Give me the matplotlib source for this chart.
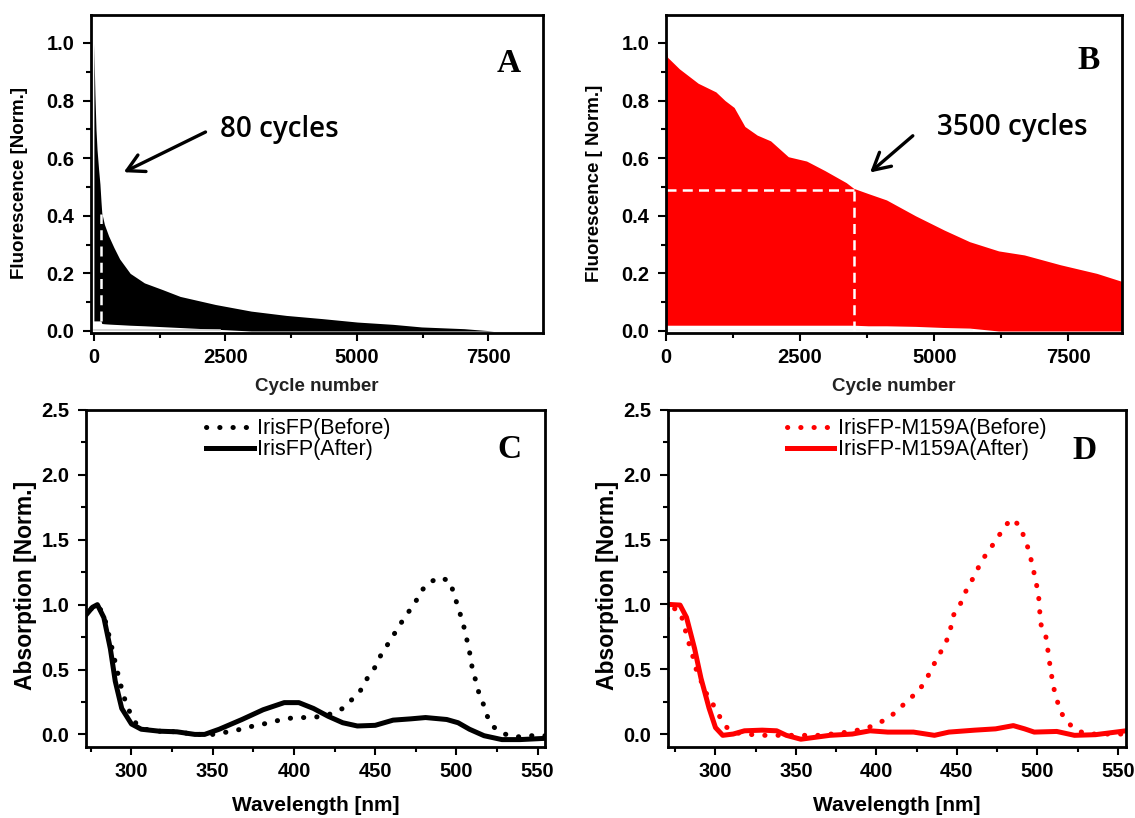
import numpy as np
import matplotlib
matplotlib.use("Agg")
import matplotlib.pyplot as plt
from matplotlib.ticker import MultipleLocator, FormatStrFormatter

plt.rcParams['font.family'] = ['Liberation Sans', 'DejaVu Sans']

# ---- Panel A data (IrisFP switching fatigue) ----
a_cycle = [0, 10, 20, 40, 60, 90, 115, 135, 150, 200, 280, 380, 490, 690, 960, 1300, 1640, 2310,
           2990, 3660, 4340, 5010, 5690, 6230, 7040, 7380, 7600]
a_upper = [1.0, 0.9, 0.82, 0.70, 0.63, 0.56, 0.51, 0.45, 0.41, 0.37, 0.33, 0.29, 0.25, 0.20, 0.167,
           0.144, 0.12, 0.092, 0.069, 0.054, 0.043, 0.031, 0.023, 0.014, 0.008, 0.003, 0.0]
a_lower = [0.035, 0.035, 0.035, 0.035, 0.035, 0.035, 0.035, 0.035, 0.026, 0.025, 0.024, 0.023, 0.022,
           0.02, 0.018, 0.015, 0.012, 0.006, 0.0, 0.0, 0.0, 0.0, 0.0, 0.0, 0.0, 0.0, 0.0]
a_mark_cycle = 135
a_mark_level = 0.405

# ---- Panel B data (IrisFP-M159A switching fatigue) ----
b_cycle = [0, 30, 250, 600, 930, 1100, 1270, 1470, 1700, 1950, 2280, 2620, 2960, 3360, 3500, 3770,
           4110, 4650, 5190, 5660, 6200, 6680, 7350, 8030, 8500]
b_upper = [1.0, 0.95, 0.91, 0.86, 0.83, 0.80, 0.776, 0.71, 0.68, 0.66, 0.605, 0.59, 0.557, 0.515,
           0.495, 0.477, 0.455, 0.40, 0.35, 0.31, 0.278, 0.264, 0.23, 0.20, 0.172]
b_lower = [0.02, 0.02, 0.02, 0.02, 0.02, 0.02, 0.02, 0.02, 0.02, 0.02, 0.02, 0.02, 0.02, 0.02, 0.02,
           0.018, 0.018, 0.016, 0.012, 0.01, 0.0, 0.0, 0.0, 0.0, 0.0]
b_mark_cycle = 3500
b_mark_level = 0.49

# ---- Panel C data (IrisFP absorption) ----
c_wl_after = [270, 276, 279, 283, 287, 290, 294, 300, 306, 317, 328, 339, 345, 354, 368, 381, 394,
              403, 412, 421, 430, 439, 450, 461, 472, 481, 494, 501, 508, 517, 528, 539, 555]
c_after = [0.89, 0.98, 1.0, 0.9, 0.66, 0.41, 0.2, 0.08, 0.04, 0.025, 0.02, 0.0, 0.0, 0.04, 0.115,
           0.19, 0.245, 0.245, 0.2, 0.14, 0.09, 0.065, 0.07, 0.11, 0.12, 0.13, 0.115, 0.09, 0.04,
           -0.01, -0.04, -0.04, -0.03]
c_wl_before = [270, 276, 279, 283, 287, 291, 295, 299, 303, 308, 317, 328, 339, 350, 362, 369, 375,
               385, 394, 402, 410, 418, 423, 430, 435, 441, 445, 450, 453, 457, 461, 465, 469, 474,
               478, 483, 490, 496, 499, 503, 505, 508, 510, 512, 514, 517, 519, 522, 529, 537, 543, 555]
c_before = [0.89, 0.98, 1.0, 0.92, 0.72, 0.5, 0.3, 0.17, 0.08, 0.04, 0.025, 0.02, 0.0, 0.0, 0.025,
            0.045, 0.065, 0.09, 0.12, 0.13, 0.13, 0.14, 0.16, 0.2, 0.26, 0.34, 0.43, 0.52, 0.6, 0.68,
            0.76, 0.84, 0.92, 1.0, 1.10, 1.17, 1.21, 1.18, 1.06, 0.9, 0.81, 0.64, 0.49, 0.41, 0.31,
            0.22, 0.14, 0.065, 0.005, -0.02, -0.01, -0.01]

# ---- Panel D data (IrisFP-M159A absorption) ----
d_wl_after = [270, 271, 278, 282, 287, 291, 296, 300, 304.5, 311, 318, 329, 338, 344, 353, 362, 371,
              385, 396, 407, 423, 436, 445, 461, 474, 485, 492, 498, 512, 523, 536, 555]
d_after = [0.98, 1.0, 0.995, 0.9, 0.66, 0.43, 0.2, 0.05, -0.01, 0.0, 0.025, 0.03, 0.025, -0.01,
           -0.04, -0.025, -0.01, 0.0, 0.025, 0.015, 0.015, -0.01, 0.015, 0.03, 0.04, 0.065, 0.04,
           0.015, 0.02, -0.01, -0.005, 0.025]
d_wl_before = [270, 274, 278, 280, 283, 285.5, 288, 291, 294, 298, 301, 306, 312, 327, 365, 372, 379,
               386, 393, 400, 407, 413, 419, 426, 431, 434, 438, 442, 445, 448, 452, 455, 458.6, 462,
               465, 470, 474, 478.6, 483.5, 489, 494, 497, 499, 500.5, 502, 505, 506, 508, 510, 512,
               514, 518, 523, 530, 545, 555]
d_before = [0.89, 0.97, 0.95, 0.86, 0.72, 0.62, 0.5, 0.41, 0.32, 0.24, 0.17, 0.06, 0.01, -0.01,
            -0.01, 0.0, 0.01, 0.025, 0.04, 0.077, 0.12, 0.18, 0.255, 0.33, 0.42, 0.5, 0.59, 0.68,
            0.76, 0.92, 1.0, 1.09, 1.17, 1.25, 1.33, 1.42, 1.49, 1.58, 1.66, 1.61, 1.44, 1.3, 1.17,
            1.1, 0.85, 0.77, 0.69, 0.51, 0.36, 0.27, 0.18, 0.1, 0.04, 0.0, 0.0, 0.0]

RED = '#ff0000'
DOTS = (0, (0.05, 2.6))

fig = plt.figure(figsize=(11.35, 8.18), dpi=100)
W, H = 1135.0, 818.0

def make_ax(l, r, t, b):
    return fig.add_axes([l / W, 1 - b / H, (r - l) / W, (b - t) / H])

axA = make_ax(91, 543, 15, 333)
axB = make_ax(666, 1122, 15, 333)
axC = make_ax(86, 545, 410, 747)
axD = make_ax(668, 1126, 410, 747)

def style(ax):
    for s in ax.spines.values():
        s.set_linewidth(2.0)
    ax.tick_params(which='both', direction='out', top=False, right=False, width=1.5)
    ax.tick_params(which='major', length=6)
    ax.tick_params(which='minor', length=3.5)
    ax.tick_params(axis='x', which='major', pad=5)
    ax.tick_params(axis='y', which='major', pad=6)
    for lab in ax.get_xticklabels() + ax.get_yticklabels():
        lab.set_fontweight('bold')
        lab.set_fontsize(14.5)

def panel_letter(ax, letter, x, y):
    ax.text(x, y, letter, transform=ax.transAxes, fontsize=24, fontweight='bold',
            family='Liberation Serif', ha='right', va='top')

arrow_kw = dict(arrowstyle='->,head_length=0.55,head_width=0.3', color='black', lw=2.4,
                mutation_scale=22)

# ---- Panel A ----
axA.fill_between(a_cycle, a_lower, a_upper, color='black', linewidth=0)
axA.plot([0, 2400], [0.002, 0.002], color='#cccccc', lw=1.2)
axA.plot([a_mark_cycle, a_mark_cycle], [0.035, a_mark_level], color='white', lw=1.8,
         ls=(0, (4, 2.5)))
axA.set_xlim(-55, 8540)
axA.set_ylim(-0.007, 1.097)
axA.xaxis.set_major_locator(MultipleLocator(2500))
axA.xaxis.set_minor_locator(MultipleLocator(1250))
axA.yaxis.set_major_locator(MultipleLocator(0.2))
axA.yaxis.set_minor_locator(MultipleLocator(0.1))
axA.yaxis.set_major_formatter(FormatStrFormatter('%.1f'))
axA.set_ylabel('Fluorescence [Norm.]', fontsize=13.5, fontweight='bold')
axA.yaxis.set_label_coords(-0.139, 0.472)
axA.set_xlabel('Cycle number', fontsize=13.5, fontweight='bold', color='#222222')
axA.xaxis.set_label_coords(0.5, -0.14)
axA.annotate('', xy=(520, 0.547), xytext=(2170, 0.695), arrowprops=arrow_kw)
axA.text(2390, 0.70, '80 cycles', fontsize=20, family='Open Sans', fontweight='semibold',
         va='center', ha='left')
panel_letter(axA, 'A', 0.95, 0.895)
style(axA)

# ---- Panel B ----
axB.fill_between(b_cycle, b_lower, b_upper, color=RED, linewidth=0)
axB.plot([0, 5700], [0.003, 0.003], color='#f6f6f6', lw=1.2)
axB.plot([0, b_mark_cycle], [b_mark_level, b_mark_level], color='white', lw=1.8, ls=(0, (4, 2.5)))
axB.plot([b_mark_cycle, b_mark_cycle], [0, b_mark_level], color='white', lw=1.8, ls=(0, (4, 2.5)))
axB.set_xlim(0, 8500)
axB.set_ylim(-0.007, 1.097)
axB.xaxis.set_major_locator(MultipleLocator(2500))
axB.xaxis.set_minor_locator(MultipleLocator(1250))
axB.yaxis.set_major_locator(MultipleLocator(0.2))
axB.yaxis.set_minor_locator(MultipleLocator(0.1))
axB.yaxis.set_major_formatter(FormatStrFormatter('%.1f'))
axB.set_ylabel('Fluorescence [ Norm.]', fontsize=13.5, fontweight='bold')
axB.yaxis.set_label_coords(-0.139, 0.472)
axB.set_xlabel('Cycle number', fontsize=13.5, fontweight='bold', color='#222222')
axB.xaxis.set_label_coords(0.5, -0.14)
axB.annotate('', xy=(3765, 0.544), xytext=(4640, 0.684), arrowprops=arrow_kw)
axB.text(5045, 0.706, '3500 cycles', fontsize=20, family='Open Sans', fontweight='semibold',
         va='center', ha='left')
panel_letter(axB, 'B', 0.95, 0.905)
style(axB)

# ---- Panel C ----
axC.plot(c_wl_before, c_before, color='black', lw=3.6, ls=DOTS, dash_capstyle='round',
         label='IrisFP(Before)')
axC.plot(c_wl_after, c_after, color='black', lw=3.6, label='IrisFP(After)')
axC.set_xlim(272, 554.5)
axC.set_ylim(-0.097, 2.5)
axC.xaxis.set_major_locator(MultipleLocator(50))
axC.xaxis.set_minor_locator(MultipleLocator(25))
axC.yaxis.set_major_locator(MultipleLocator(0.5))
axC.yaxis.set_minor_locator(MultipleLocator(0.25))
axC.yaxis.set_major_formatter(FormatStrFormatter('%.1f'))
axC.set_ylabel('Absorption [Norm.]', fontsize=16.5, fontweight='bold')
axC.yaxis.set_label_coords(-0.107, 0.478)
axC.set_xlabel('Wavelength [nm]', fontsize=15, fontweight='bold')
axC.xaxis.set_label_coords(0.5, -0.145)
axC.legend(loc='upper left', bbox_to_anchor=(0.262, 0.975), frameon=False, fontsize=15.5,
           handlelength=2.2, handletextpad=0.15, labelspacing=0.0, borderaxespad=0.0,
           borderpad=0.0)
panel_letter(axC, 'C', 0.948, 0.93)
style(axC)

# ---- Panel D ----
axD.plot(d_wl_before, d_before, color=RED, lw=3.6, ls=DOTS, dash_capstyle='round',
         label='IrisFP-M159A(Before)')
axD.plot(d_wl_after, d_after, color=RED, lw=3.6, label='IrisFP-M159A(After)')
axD.set_xlim(270.5, 555)
axD.set_ylim(-0.1, 2.5)
axD.xaxis.set_major_locator(MultipleLocator(50))
axD.xaxis.set_minor_locator(MultipleLocator(25))
axD.yaxis.set_major_locator(MultipleLocator(0.5))
axD.yaxis.set_minor_locator(MultipleLocator(0.25))
axD.yaxis.set_major_formatter(FormatStrFormatter('%.1f'))
axD.set_ylabel('Absorption [Norm.]', fontsize=16.5, fontweight='bold')
axD.yaxis.set_label_coords(-0.107, 0.478)
axD.set_xlabel('Wavelength [nm]', fontsize=15, fontweight='bold')
axD.xaxis.set_label_coords(0.5, -0.145)
axD.legend(loc='upper left', bbox_to_anchor=(0.26, 0.975), frameon=False, fontsize=15.5,
           handlelength=2.2, handletextpad=0.15, labelspacing=0.0, borderaxespad=0.0,
           borderpad=0.0)
panel_letter(axD, 'D', 0.935, 0.925)
style(axD)

fig.savefig('out.png', dpi=100)
